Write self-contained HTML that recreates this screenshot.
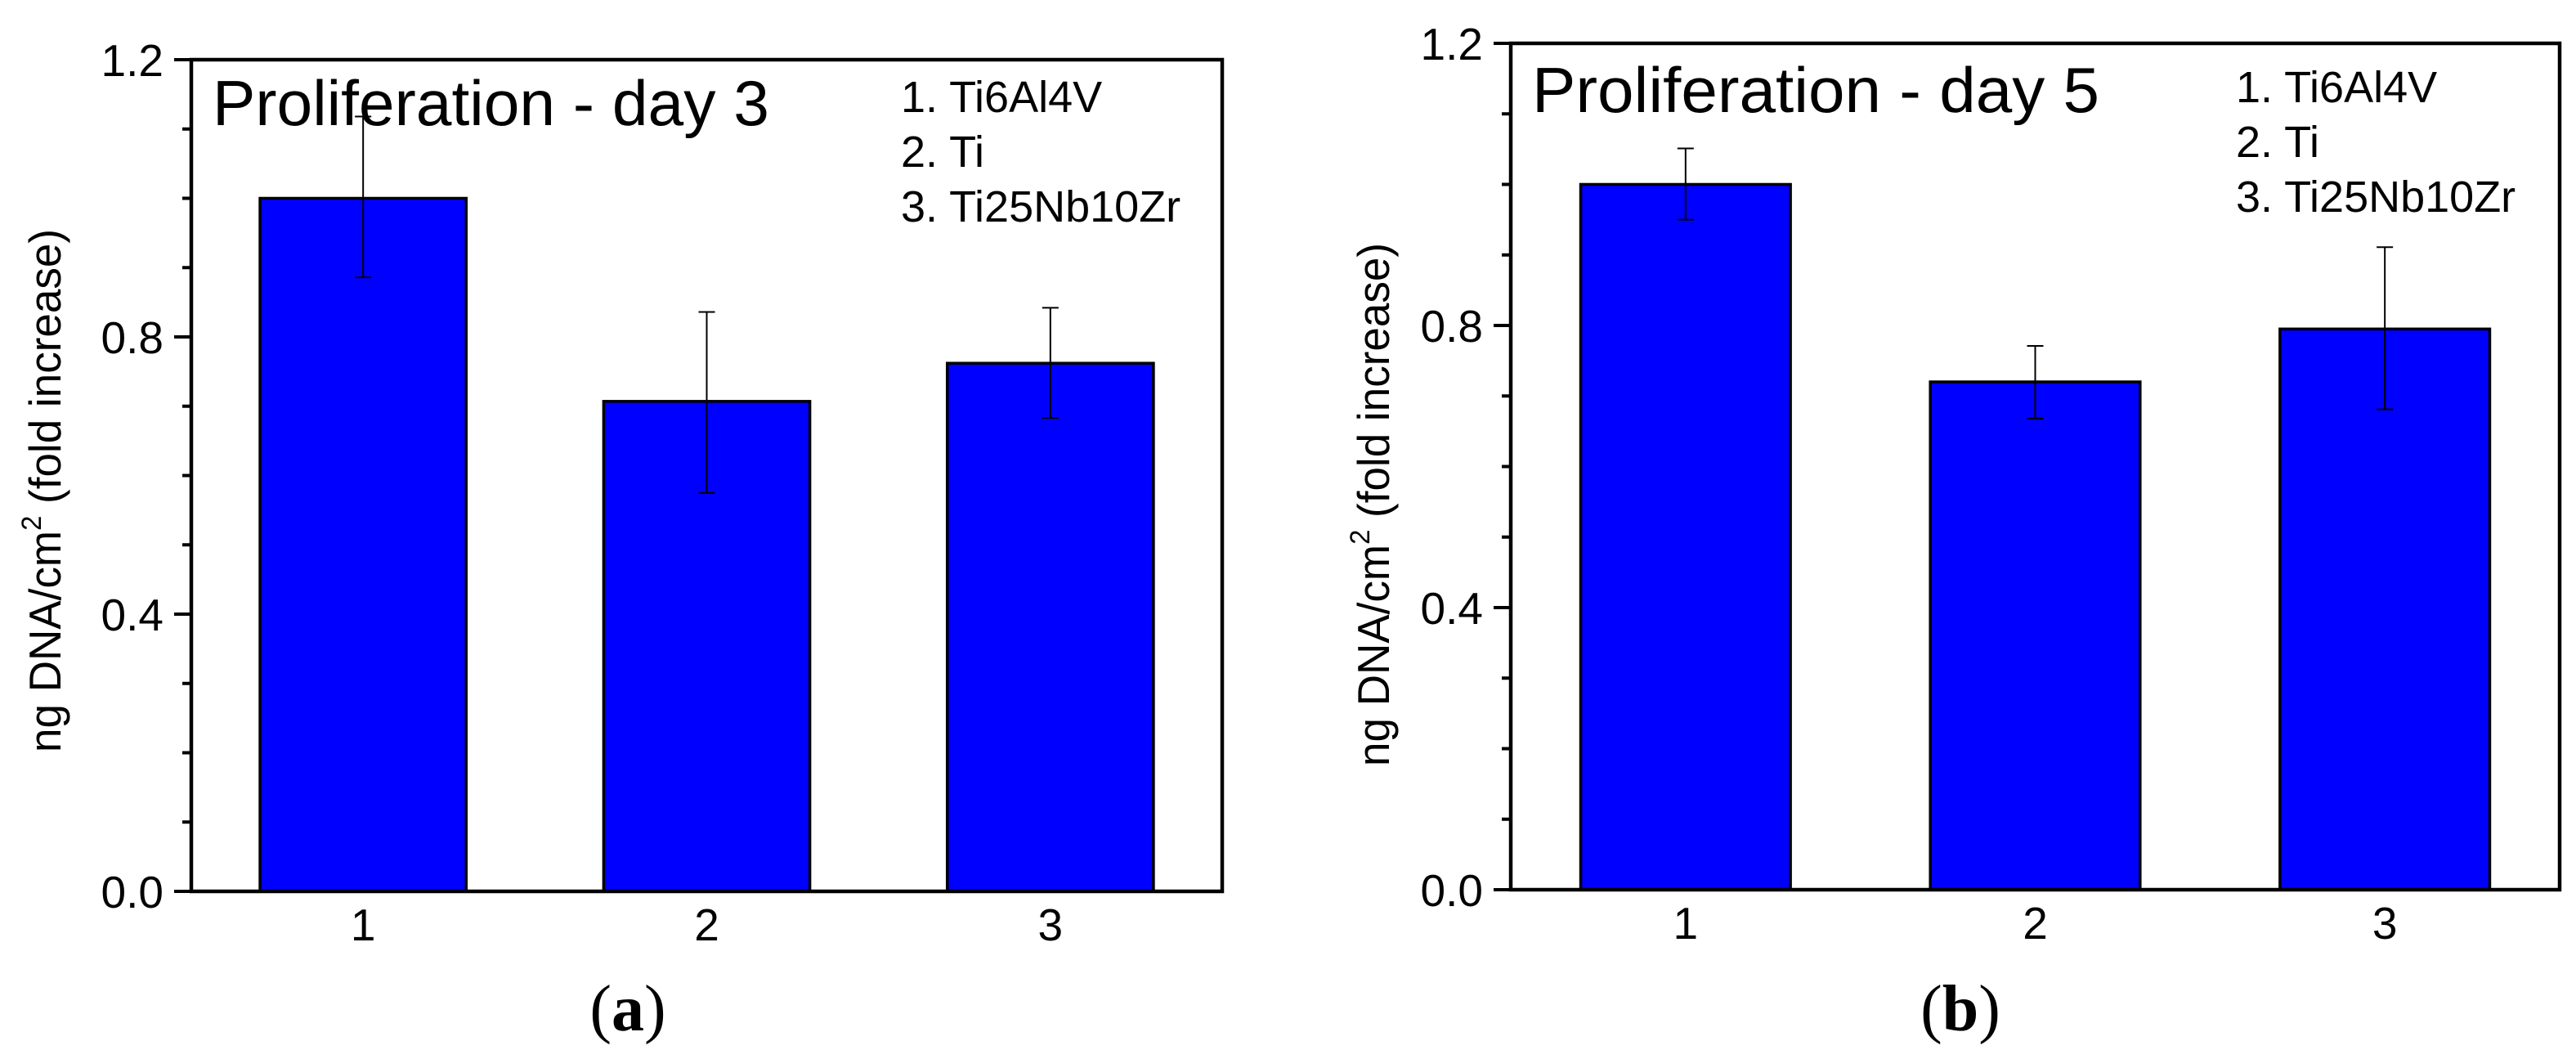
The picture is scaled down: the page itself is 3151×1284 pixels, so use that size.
<!DOCTYPE html>
<html><head><meta charset="utf-8">
<style>
html,body{margin:0;padding:0;background:#fff;}
svg{display:block;font-family:"Liberation Sans",Arial,sans-serif;}
</style></head>
<body>
<svg id="fig" width="3151" height="1284" viewBox="0 0 3151 1284" xmlns="http://www.w3.org/2000/svg"></svg>
<script>
const categories = ["1","2","3"];
const day3Values = [1.0, 0.707, 0.762];
const day3Upper = [1.118, 0.836, 0.842];
const day3Lower = [0.886, 0.575, 0.683];
const day5Values = [1.0, 0.72, 0.795];
const day5Upper = [1.051, 0.771, 0.911];
const day5Lower = [0.950, 0.668, 0.681];
const yTicks = ["0.0","0.4","0.8","1.2"];
const legendA = ["1. Ti6Al4V","2. Ti","3. Ti25Nb10Zr"];
const legendB = ["1. Ti6Al4V","2.  Ti","3. Ti25Nb10Zr"];

const NS = "http://www.w3.org/2000/svg";
const svg = document.getElementById('fig');
function mk(tag, attrs, parent){
  const e = document.createElementNS(NS, tag);
  for (const k in attrs) e.setAttribute(k, attrs[k]);
  (parent||svg).appendChild(e);
  return e;
}
function panel(cfg){
  const g = mk('g', {});
  
  
  const L=cfg.left, R=cfg.right, T=cfg.top, B=cfg.bottom;
  const yMax=1.2;
  const y = v => B - (v/yMax)*(B-T);
  const n = categories.length;
  const x = i => L + (R-L)/n*(i+0.5);
  const bw = (R-L)/n*0.6;
  cfg.values.forEach((v,i)=>{
    const r = mk('rect',{x:x(i)-bw/2,y:y(v),width:bw,height:B-y(v),fill:'#0000ff',stroke:'#000','stroke-width':3.5},g);
    
    
    const eb = mk('path',{d:`M${x(i)},${y(cfg.upper[i])}V${y(cfg.lower[i])}M${x(i)-10},${y(cfg.upper[i])}H${x(i)+10}M${x(i)-10},${y(cfg.lower[i])}H${x(i)+10}`,stroke:'#000','stroke-width':2,fill:'none'},g);
    
    
    const t = mk('text',{x:x(i),y:B+60,'font-size':55,'text-anchor':'middle'},g);
    t.textContent = categories[i];
    
    
  });
  const fr = mk('rect',{x:L,y:T,width:R-L,height:B-T,fill:'none',stroke:'#000','stroke-width':4.5},g);
  
  
  for(let k=0;k<=12;k++){
    const v=k/10, major=(k%4===0);
    mk('line',{x1:L-(major?21:11),x2:L,y1:y(v),y2:y(v),stroke:'#000','stroke-width':4},g);
  }
  yTicks.forEach(s=>{
    const t = mk('text',{x:L-34,y:y(parseFloat(s))+20,'font-size':55,'text-anchor':'end'},g);
    t.textContent = s;
    
    
  });
  const yl = mk('text',{transform:`translate(${cfg.ylx},${cfg.yly}) rotate(-90)`,'font-size':55,'text-anchor':'middle',textLength:640,lengthAdjust:'spacingAndGlyphs'},g);
  yl.innerHTML = 'ng DNA/cm<tspan font-size="34" dy="-24">2</tspan><tspan dy="24"> (fold increase)</tspan>';
  
  
  const ti = mk('text',{x:cfg.titleX,y:cfg.titleY,'font-size':78,textLength:cfg.titleW,lengthAdjust:'spacingAndGlyphs'},g);
  ti.textContent = cfg.title;
  
  
  cfg.legend.forEach((s,i)=>{
    const t = mk('text',{x:cfg.legX,y:cfg.legY+i*67,'font-size':54,'xml:space':'preserve'},g);
    t.textContent = s;
    
    
  });
  const lab = mk('text',{x:cfg.labX,y:1260,'font-size':80,'text-anchor':'middle','font-family':'"Liberation Serif",serif'},g);
  lab.innerHTML = '(<tspan font-weight="bold">'+cfg.label+'</tspan>)';
  
  
}
panel({name:'panel-a',left:234,right:1495,top:73,bottom:1090,values:day3Values,upper:day3Upper,lower:day3Lower,
  ylx:74,yly:600,title:'Proliferation - day 3',titleX:260,titleY:153,titleW:681,legend:legendA,legX:1102,legY:137,labX:768,label:'a'});
panel({name:'panel-b',left:1848,right:3131,top:53,bottom:1088,values:day5Values,upper:day5Upper,lower:day5Lower,
  ylx:1699,yly:617,title:'Proliferation - day 5',titleX:1874,titleY:137,titleW:694,legend:legendB,legX:2735,legY:125,labX:2398,label:'b'});
</script>
</body></html>
